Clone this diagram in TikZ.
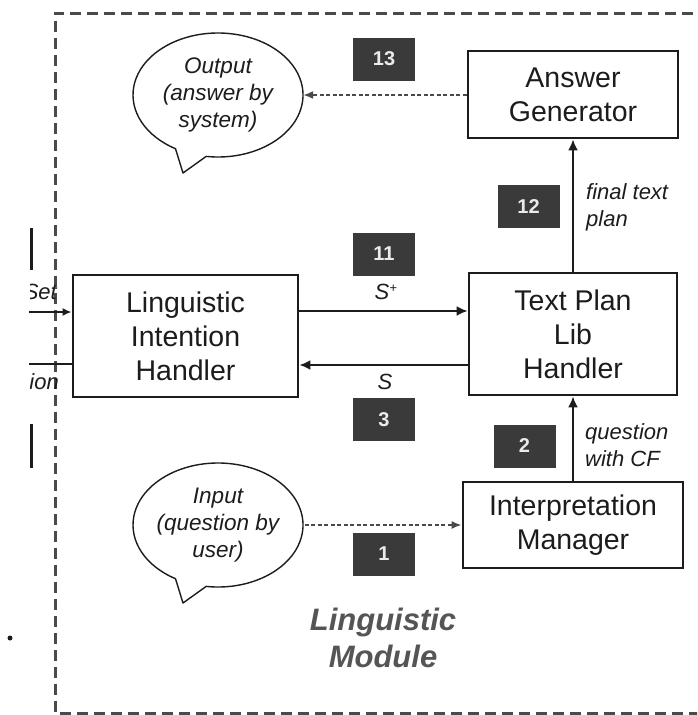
\documentclass[tikz,border=0pt]{standalone}
\usepackage{fontspec}
\setmainfont{Liberation Sans}
\usetikzlibrary{arrows.meta,shapes.geometric}

\definecolor{ink}{HTML}{1C1C1C}
\definecolor{framegray}{HTML}{4A4A4A}
\definecolor{labgray}{HTML}{3A3A3A}
\definecolor{modgray}{HTML}{555555}

\begin{document}
\begin{tikzpicture}[x=1pt,y=1pt,
  box/.style={draw=ink, line width=2.8pt, fill=white, rectangle, inner sep=0pt,
    align=center, text=ink, font=\fontsize{28.5}{34}\selectfont},
  bubble/.style={ellipse, inner sep=0pt, minimum width=170pt, minimum height=124pt,
    align=center, text=ink, font=\itshape\fontsize{22.5}{27}\selectfont},
  bubbleline/.style={draw=ink, line width=1.4pt, fill=white, line join=round},
  numlab/.style={fill=labgray, text=white!92!black, inner sep=0pt, minimum width=62pt,
    minimum height=43pt, font=\bfseries\fontsize{20}{20}\selectfont},
  note/.style={text=ink, align=left, inner sep=0pt, font=\itshape\fontsize{22}{27}\selectfont},
  arr/.style={draw=ink, line width=2pt, -{Latex[length=11pt,width=10pt]}},
  plain/.style={draw=ink, line width=2pt},
  dasharr/.style={draw=framegray, line width=1.7pt, dash pattern=on 4pt off 2.5pt,
    -{Latex[length=10pt,width=8pt]}},
  frame/.style={draw=framegray, line width=3pt, dash pattern=on 11pt off 6pt}]

\useasboundingbox (0,0) rectangle (697,-715);
\clip (0,0) rectangle (697,-715);

% module frame (open to the right)
\draw[frame] (710,-13) -- (55,-13) -- (55,-713) -- (710,-713);

% outside fragments on the left
\draw[ink, line width=3pt] (31,-228) -- (31,-270);
\draw[ink, line width=3pt] (31,-424) -- (31,-468);
\fill[ink] (10,-638) circle (2.5pt);
\begin{scope}
  \clip (30,-270) rectangle (70,-400);
  \node[note, anchor=east] (setlab) at (57,-292) {Set};
  \node[note, anchor=east] (ionlab) at (59,-382) {ion};
\end{scope}
\coordinate (inL) at (29,-312);
\coordinate (outL) at (29,-364);

% components
\node[box, minimum width=210pt, minimum height=87pt] (ag) at (573,-94.5) {Answer\\Generator};
\node[box, minimum width=208pt, minimum height=122pt] (tp) at (573,-334) {Text Plan\\Lib\\Handler};
\node[box, minimum width=225pt, minimum height=122pt] (lih) at (185.5,-336) {Linguistic\\Intention\\Handler};
\node[box, minimum width=220pt, minimum height=86pt] (im) at (573,-525) {Interpretation\\Manager};

% speech bubbles
\node[bubble] (outb) at (218,-95) {Output\\(answer by\\system)};
\node[bubble] (inb) at (218,-525) {Input\\(question by\\user)};
\path[bubbleline] ([shift={(262:85pt and 62pt)}]outb.center)
  arc[start angle=262, end angle=600, x radius=85pt, y radius=62pt]
  -- (183,-173) -- cycle;
\path[bubbleline] ([shift={(262:85pt and 62pt)}]inb.center)
  arc[start angle=262, end angle=600, x radius=85pt, y radius=62pt]
  -- (183,-603) -- cycle;
\node[bubble] at (outb.center) {Output\\(answer by\\system)};
\node[bubble] at (inb.center) {Input\\(question by\\user)};

% step numbers
\node[numlab] (n13) at (384,-59) {13};
\node[numlab] (n12) at (528.5,-206.5) {12};
\node[numlab] (n11) at (384,-254) {11};
\node[numlab] (n3) at (384,-419.5) {3};
\node[numlab] (n2) at (524.5,-446) {2};
\node[numlab] (n1) at (384,-554) {1};

% connectors
\draw[dasharr] (ag.west |- outb.east) -- (outb.east);
\draw[arr] (tp.north) -- (ag.south);
\draw[arr] (lih.east |- 0,-311) -- (tp.west |- 0,-311);
\draw[arr] (tp.west |- 0,-365) -- (lih.east |- 0,-365);
\draw[arr] (im.north) -- (tp.south);
\draw[dasharr] (inb.east) -- (im.west |- inb.east);
\draw[draw=ink, line width=2pt, -{Latex[length=9pt,width=8pt]}] (inL) -- (lih.west |- inL);
\draw[plain] (lih.west |- outL) -- (outL);

% connector labels
\node[note, anchor=west] (ftp) at (586,-207) {final text\\plan};
\node[note, anchor=west] (qcf) at (585,-445) {question\\with CF};
\node[note] (splus) at (386,-292) {S\textsuperscript{\fontsize{13}{13}\selectfont +}};
\node[note] (sminus) at (385,-382) {S};

% module title
\node[align=center, text=modgray, font=\bfseries\itshape\fontsize{31}{37}\selectfont]
  (title) at (383,-638) {Linguistic\\Module};

\end{tikzpicture}
\end{document}
